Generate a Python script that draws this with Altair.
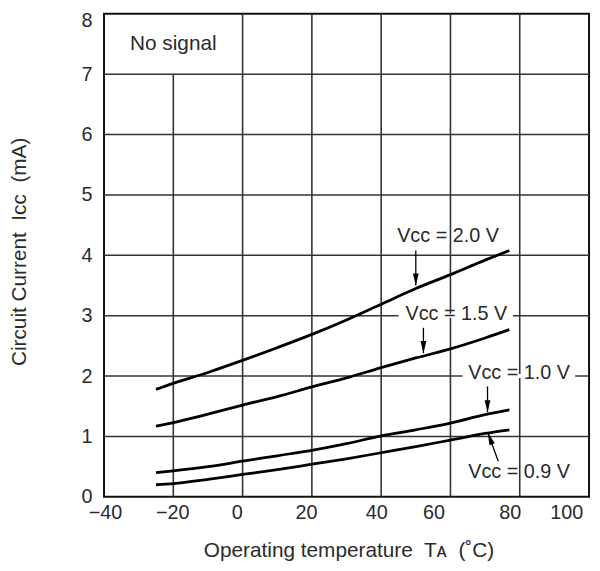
import altair as alt
import pandas as pd

# ---- data ----
temps = [-25, -20, -10, 0, 10, 20, 30, 40, 50, 60, 70, 77]
icc_20 = [1.78, 1.88, 2.06, 2.26, 2.47, 2.69, 2.93, 3.19, 3.45, 3.68, 3.92, 4.08]
icc_15 = [1.17, 1.23, 1.37, 1.52, 1.66, 1.82, 1.97, 2.14, 2.30, 2.45, 2.63, 2.77]
icc_10 = [0.40, 0.43, 0.50, 0.59, 0.68, 0.77, 0.88, 1.01, 1.11, 1.22, 1.36, 1.44]
icc_09 = [0.20, 0.22, 0.29, 0.37, 0.45, 0.54, 0.63, 0.73, 0.83, 0.94, 1.05, 1.11]
series_names = ["2.0", "1.5", "1.0", "0.9"]

label_texts = ["Vcc = 2.0 V", "Vcc = 1.5 V", "Vcc = 1.0 V", "Vcc = 0.9 V"]
label_t = [59.3, 61.7, 79.8, 79.8]
label_i = [4.32, 3.03, 2.05, 0.41]

arrow_t1 = [50.0, 52.2, 70.7, 73.8]
arrow_i1 = [4.08, 2.80, 1.83, 0.59]
arrow_t2 = [50.0, 52.2, 70.7, 70.8]
arrow_i2 = [3.50, 2.38, 1.40, 1.06]
arrow_angle = [0, 0, 0, 159.5]

gap_t1 = [45.0, 63.5]
gap_t2 = [78.0, 96.0]
gap_i = [3, 2]

vgrid_t = [-20, 0, 20, 40, 60, 80]
vgrid_top = [7, 8, 8, 8, 8, 8]
hgrid_i = [1, 2, 3, 4, 5, 6, 7]

x_ticks = [-40, -20, 0, 20, 40, 60, 80, 100]
x_label_shift = [1, -1, -6, -6, -5, -17, -10, -23]
y_ticks = [0, 1, 2, 3, 4, 5, 6, 7, 8]

FONT = "Liberation Sans"
TXT = "#2a2a2a"
SP = "\u00a0 "

# ---- tables ----
rows = []
for name, vals in zip(series_names, [icc_20, icc_15, icc_10, icc_09]):
    for t, v in zip(temps, vals):
        rows.append({"T": t, "I": v, "s": name})
curves_df = pd.DataFrame(rows)
labels_df = pd.DataFrame({"T": label_t, "I": label_i, "txt": label_texts})
arrows_df = pd.DataFrame({"T": arrow_t1, "I": arrow_i1, "T2": arrow_t2, "I2": arrow_i2, "ang": arrow_angle})
gaps_df = pd.DataFrame({"T": gap_t1, "T2": gap_t2, "I": gap_i})
vgrid_df = pd.DataFrame({"T": vgrid_t, "I": [0] * len(vgrid_t), "I2": vgrid_top})
hgrid_df = pd.DataFrame({"I": hgrid_i, "T": [-40] * len(hgrid_i), "T2": [100] * len(hgrid_i)})
note_df = pd.DataFrame({"T": [-20], "I": [7.5], "txt": ["No signal"]})

xscale = alt.Scale(domain=[-40, 100], nice=False, zero=False)
yscale = alt.Scale(domain=[0, 8], nice=False, zero=False)

x_offset_cond = {
    "condition": [{"test": f"datum.value == {t}", "value": s} for t, s in zip(x_ticks, x_label_shift)],
    "value": 0,
}
y_offset_cond = {"condition": [{"test": "datum.value == 8", "value": 7}], "value": 0}

xaxis = alt.Axis(
    values=x_ticks, grid=False, domain=False, ticks=False, labelFlush=False, labelOverlap=False,
    labelFont=FONT, labelFontSize=20, labelColor=TXT, labelPadding=6,
    labelBaseline="top", labelOffset=x_offset_cond,
    labelExpr="replace(datum.label, '-', '\u2212')",
    title=f"Operating temperature{SP}T\u1d00{SP}(\u02daC)", titleFont=FONT, titleFontSize=21,
    titleFontWeight="normal", titleColor=TXT, titleX=247, titleY=54,
    titleAlign="center", titleBaseline="middle",
)
yaxis = alt.Axis(
    values=y_ticks, grid=False, domain=False, ticks=False, labelFlush=False, labelOverlap=False,
    labelFont=FONT, labelFontSize=20, labelColor=TXT, labelPadding=12,
    labelBaseline="middle", labelOffset=y_offset_cond,
    title=f"Circuit Current{SP}Icc{SP}(mA)", titleFont=FONT, titleFontSize=21,
    titleFontWeight="normal", titleColor=TXT, titleX=-85, titleY=240,
    titleAngle=270, titleAlign="center", titleBaseline="middle",
)


def X(f="T"):
    return alt.X(f"{f}:Q", scale=xscale, axis=xaxis)


def Y(f="I"):
    return alt.Y(f"{f}:Q", scale=yscale, axis=yaxis)


vgrid = alt.Chart(vgrid_df).mark_rule(color="#333333", strokeWidth=1.6).encode(
    x=X(), y=Y(), y2="I2:Q")
hgrid = alt.Chart(hgrid_df).mark_rule(color="#333333", strokeWidth=1.6).encode(
    y=Y(), x=X(), x2="T2:Q")
gaps = alt.Chart(gaps_df).mark_rule(color="white", strokeWidth=4).encode(
    y=Y(), x=X(), x2="T2:Q")
curves = alt.Chart(curves_df).mark_line(color="black", strokeWidth=2.8, interpolate="monotone").encode(
    x=X(), y=Y(), detail="s:N")
arrows = alt.Chart(arrows_df).mark_rule(color="black", strokeWidth=1.3).encode(
    x=X(), y=Y(), x2="T2:Q", y2="I2:Q")
heads = alt.Chart(arrows_df).mark_point(
    shape="M0,0L-0.24,-1L0.24,-1Z", filled=True, color="black", opacity=1, size=600, strokeWidth=0
).encode(x=X("T2"), y=Y("I2"), angle=alt.Angle("ang:Q", scale=None))
labels = alt.Chart(labels_df).mark_text(
    font=FONT, fontSize=20, color=TXT, align="center", baseline="middle"
).encode(x=X(), y=Y(), text="txt:N")
note = alt.Chart(note_df).mark_text(
    font=FONT, fontSize=21, color=TXT, align="center", baseline="middle"
).encode(x=X(), y=Y(), text="txt:N")

chart = alt.layer(vgrid, hgrid, gaps, curves, arrows, heads, labels, note).properties(
    width=490, height=488,
    autosize=alt.AutoSizeParams(type="none"),
    padding={"left": 97, "top": 3, "right": 3, "bottom": 64},
).configure_view(stroke="#111111", strokeWidth=2)

chart.save("out.html", embed_options={"renderer": "svg", "actions": False})
